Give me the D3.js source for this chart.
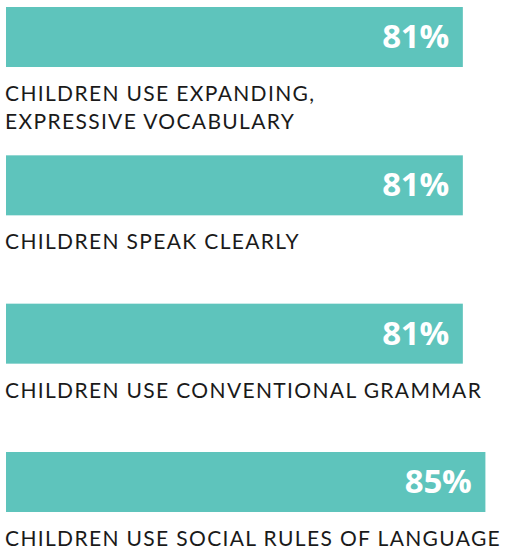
<!DOCTYPE html>
<html><head><meta charset="utf-8">
<script src="https://cdn.jsdelivr.net/npm/d3@7"></script>
<style>html,body{margin:0;padding:0;background:#fff;}svg{display:block;}</style>
</head><body>
<script>
const categories = [
  ["CHILDREN USE EXPANDING,", "EXPRESSIVE VOCABULARY"],
  ["CHILDREN SPEAK CLEARLY"],
  ["CHILDREN USE CONVENTIONAL GRAMMAR"],
  ["CHILDREN USE SOCIAL RULES OF LANGUAGE"]
];
const values = [81, 81, 81, 85];
const valueLabels = ["81%", "81%", "81%", "85%"];

const W = 505, H = 554;
const svg = d3.select("body").append("svg").attr("width", W).attr("height", H);

const keys = categories.map((c, i) => i);
const x = d3.scaleLinear().domain([0, 100]).range([6, 570]);
const y = d3.scalePoint().domain(keys).range([7, 452]);
const barH = 60;

const g = svg.selectAll("g.item").data(keys).join("g").attr("class", "item");

g.append("rect")
  .attr("x", x(0))
  .attr("y", i => y(i))
  .attr("width", i => x(values[i]) - x(0))
  .attr("height", barH)
  .attr("fill", "#5EC4BC");

g.append("text")
  .attr("x", i => x(values[i]) - 14)
  .attr("y", i => y(i) + barH / 2 + 11)
  .attr("text-anchor", "end")
  .attr("fill", "#fff")
  .attr("font-family", "'Open Sans', sans-serif")
  .attr("font-weight", 700)
  .attr("font-size", 33)
  .attr("letter-spacing", -0.3)
  .text(i => valueLabels[i]);

g.each(function(i) {
  const sel = d3.select(this);
  categories[i].forEach((line, j) => {
    sel.append("text")
      .attr("x", 5)
      .attr("y", y(i) + barH + 34 + j * 28)
      .attr("fill", "#1a1a1a")
      .attr("font-family", "Lato, sans-serif")
      .attr("font-size", 21)
      .attr("letter-spacing", 1.35)
      .text(line);
  });
});
</script>
</body></html>
